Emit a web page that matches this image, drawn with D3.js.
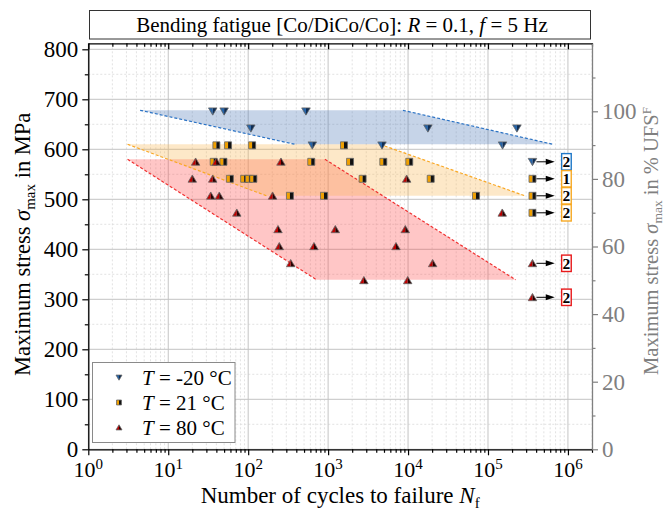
<!DOCTYPE html>
<html><head><meta charset="utf-8">
<script src="https://cdn.jsdelivr.net/npm/d3@7"></script>
<style>
body{margin:0;background:#fff}
svg{display:block}
svg text{font-family:"Liberation Serif",Tinos,"Times New Roman",Times,"DejaVu Serif",serif !important}
</style>
</head><body>
<svg id="c" width="666" height="526"></svg>
<script>
// ---------------- data ----------------
const UFS = 676; // MPa, 100 % UFS^F
const seriesNames = ["-20 °C", "21 °C", "80 °C"];
// [cycles to failure, max stress MPa]
const cold = [[36,676],[50,676],[528,676],[108,642],[17700,642],[230000,642],[634,608],[4720,608],[152000,608]];
const room = [[40,608],[56,608],[112,608],[1580,608],[37,575],[49,575],[615,575],[1880,575],[4900,575],[10350,575],
              [59,541],[89,541],[102,541],[116,541],[2700,541],[19200,541],[333,507],[888,507],[70700,507]];
const hot  = [[22,575],[40,575],[257,575],[20,541],[36,541],[9600,541],[34,507],[43.5,507],[202,507],
              [72,473],[150700,473],[236,440],[1230,440],[9230,440],[245,406],[665,406],[7060,406],
              [340,372],[20300,372],[2800,338],[9890,338]];
// run-outs: series index, cycles, stress, number of specimens
const runSeries = [0,1,1,1,2,2];
const runN      = [3.6e5,3.6e5,3.6e5,3.6e5,3.6e5,3.6e5];
const runStress = [575,541,507,473,372,304];
const runCount  = [2,1,2,2,2,2];
// scatter bands (corner points: [N, MPa])
const bandCold = [[4.45,678],[8630,678],[6.5e5,610],[385,610]];
const bandRoom = [[3.1,610],[4450,610],[2.9e5,507],[170,507]];
const bandHot  = [[3.1,580],[914,580],[2.22e5,339],[719,339]];
const xTicks = [1,10,100,1e3,1e4,1e5,1e6];
const yTicks = [0,100,200,300,400,500,600,700,800];
const yRTicks = [0,20,40,60,80,100];

// ---------------- setup ----------------
const FONT = '"Liberation Serif",Tinos,"Times New Roman",Times,"DejaVu Serif",serif';
const svg = d3.select("#c");
const L=88.3, R=592, T=43.3, B=449.3;
const x = d3.scaleLog().domain([1,2e6]).range([L,R]);
const y = d3.scaleLinear().domain([0,812]).range([B,T]);
const yR = d3.scaleLinear().domain([0,812/UFS*100]).range([B,T]);
const minorX = [];
for (let e=0;e<=6;e++) for (let k=2;k<=9;k++){const v=k*10**e; if(v<=2e6) minorX.push(v);}
const minorY = d3.range(50,812,100);
const minorYR = [10,30,50,70,90,110];

const colors = {
  fill:["rgb(65,112,178)","rgb(248,178,72)","rgb(255,65,65)"],
  edge:["#2a72c4","#f9a825","#f03030"],
  left:["#2464aa","#f0a000","#c00000"],
  right:["#0d2d55","#111111","#2a0000"],
  box:["#1f78c8","#f7a823","#e8191b"]
};

// ---------------- grid ----------------
const g = svg.append("g");
g.selectAll(".vmin").data(minorX).join("line")
  .attr("x1",d=>x(d)).attr("x2",d=>x(d)).attr("y1",T).attr("y2",B)
  .attr("stroke","#dadada").attr("stroke-width",0.8).attr("stroke-dasharray","2,2");
g.selectAll(".hmin").data(minorY).join("line")
  .attr("x1",L).attr("x2",R).attr("y1",d=>y(d)).attr("y2",d=>y(d))
  .attr("stroke","#dadada").attr("stroke-width",0.8).attr("stroke-dasharray","2,2");
g.selectAll(".vmaj").data(xTicks).join("line")
  .attr("x1",d=>x(d)).attr("x2",d=>x(d)).attr("y1",T).attr("y2",B)
  .attr("stroke","#c4c4c4").attr("stroke-width",1);
g.selectAll(".hmaj").data(yTicks).join("line")
  .attr("x1",L).attr("x2",R).attr("y1",d=>y(d)).attr("y2",d=>y(d))
  .attr("stroke","#c4c4c4").attr("stroke-width",1);

// ---------------- bands ----------------
const bands = [bandHot, bandRoom, bandCold];
const bandIdx = [2,1,0];
const line = d3.line().x(d=>x(d[0])).y(d=>y(d[1]));
bands.forEach((b,i)=>{
  const s = bandIdx[i];
  svg.append("path").attr("d", line(b)+"Z").attr("fill",colors.fill[s]).attr("fill-opacity",0.3);
});
bands.forEach((b,i)=>{
  const s = bandIdx[i];
  [[b[1],b[2]],[b[0],b[3]]].forEach(seg=>{
    svg.append("path").attr("d",line(seg)).attr("fill","none")
      .attr("stroke",colors.edge[s]).attr("stroke-width",1.2).attr("stroke-dasharray","3,2");
  });
});

// ---------------- axes ----------------
function styleAxis(sel,color){
  sel.attr("font-family",FONT);
  sel.selectAll("path.domain").attr("stroke",color).attr("stroke-width",1.3);
  sel.selectAll(".tick line").attr("stroke",color).attr("stroke-width",1.2);
  sel.selectAll("text").attr("fill",color);
}
// bottom
const ax = svg.append("g").attr("transform",`translate(0,${B})`)
  .call(d3.axisBottom(x).tickValues(xTicks).tickSize(6).tickSizeOuter(0).tickFormat(()=>""));
styleAxis(ax,"#000");
const axm = svg.append("g").attr("transform",`translate(0,${B})`)
  .call(d3.axisBottom(x).tickValues(minorX).tickSize(3.5).tickSizeOuter(0).tickFormat(()=>""));
axm.select(".domain").remove(); styleAxis(axm,"#000");
// top (inward)
const at = svg.append("g").attr("transform",`translate(0,${T})`)
  .call(d3.axisBottom(x).tickValues(xTicks).tickSize(6).tickSizeOuter(0).tickFormat(()=>""));
styleAxis(at,"#000");
const atm = svg.append("g").attr("transform",`translate(0,${T})`)
  .call(d3.axisBottom(x).tickValues(minorX).tickSize(3.5).tickSizeOuter(0).tickFormat(()=>""));
atm.select(".domain").remove(); styleAxis(atm,"#000");
// left
const al = svg.append("g").attr("transform",`translate(${L},0)`)
  .call(d3.axisLeft(y).tickValues(yTicks).tickSize(6).tickSizeOuter(0).tickPadding(4).tickFormat(d3.format("d")));
styleAxis(al,"#000");
al.attr("font-size",23);
const alm = svg.append("g").attr("transform",`translate(${L},0)`)
  .call(d3.axisLeft(y).tickValues(minorY).tickSize(3.5).tickSizeOuter(0).tickFormat(()=>""));
alm.select(".domain").remove(); styleAxis(alm,"#000");
// right
const ar = svg.append("g").attr("transform",`translate(${R},0)`)
  .call(d3.axisRight(yR).tickValues(yRTicks).tickSize(6).tickSizeOuter(0).tickPadding(4).tickFormat(d3.format("d")));
styleAxis(ar,"#808080");
ar.attr("font-size",23);
const arm = svg.append("g").attr("transform",`translate(${R},0)`)
  .call(d3.axisRight(yR).tickValues(minorYR).tickSize(3.5).tickSizeOuter(0).tickFormat(()=>""));
arm.select(".domain").remove(); styleAxis(arm,"#808080");

// x tick labels with superscripts
xTicks.forEach((v,i)=>{
  const t = svg.append("text").attr("x",x(v)).attr("y",477).attr("text-anchor","middle")
    .attr("font-size",22).attr("font-family",FONT);
  t.append("tspan").text("10");
  t.append("tspan").attr("font-size",15).attr("dy",-8.5).text(String(i));
});

// axis titles
const xt = svg.append("text").attr("x",(L+R)/2).attr("y",503).attr("text-anchor","middle").attr("font-size",23).attr("font-family",FONT);
xt.append("tspan").text("Number of cycles to failure ");
xt.append("tspan").attr("font-style","italic").text("N");
xt.append("tspan").attr("font-size",15).attr("dy",5).text("f");

const yl = svg.append("text").attr("transform",`translate(30,${(T+B)/2-2}) rotate(-90)`)
  .attr("text-anchor","middle").attr("font-size",22.5).attr("font-family",FONT);
yl.append("tspan").text("Maximum stress ");
yl.append("tspan").attr("font-style","italic").text("σ");
yl.append("tspan").attr("font-size",15).attr("dy",5).text("max");
yl.append("tspan").attr("dy",-5).text(" in MPa");

const yr = svg.append("text").attr("transform",`translate(658,241) rotate(-90)`)
  .attr("text-anchor","middle").attr("font-size",20.5).attr("fill","#808080").attr("font-family",FONT);
yr.append("tspan").text("Maximum stress ");
yr.append("tspan").attr("font-style","italic").text("σ");
yr.append("tspan").attr("font-size",13.5).attr("dy",3.5).text("max");
yr.append("tspan").attr("dy",-3.5).text(" in % UFS");
yr.append("tspan").attr("font-size",13).attr("dy",-7).text("F");

// ---------------- markers ----------------
function marker(sel, s, size){
  const h = size/2;
  let leftP, rightP, outline;
  if (s===0){
    leftP = `M${-h},${-h*0.8}L0,${-h*0.8}L0,${h*0.9}Z`;
    rightP = `M0,${-h*0.8}L${h},${-h*0.8}L0,${h*0.9}Z`;
    outline = `M${-h},${-h*0.8}L${h},${-h*0.8}L0,${h*0.9}Z`;
  } else if (s===1){
    const q = h*0.82;
    leftP = `M${-q},${-q}L0,${-q}L0,${q}L${-q},${q}Z`;
    rightP = `M0,${-q}L${q},${-q}L${q},${q}L0,${q}Z`;
    outline = `M${-q},${-q}L${q},${-q}L${q},${q}L${-q},${q}Z`;
  } else {
    leftP = `M${-h},${h*0.8}L0,${h*0.8}L0,${-h*0.9}Z`;
    rightP = `M0,${h*0.8}L${h},${h*0.8}L0,${-h*0.9}Z`;
    outline = `M${-h},${h*0.8}L${h},${h*0.8}L0,${-h*0.9}Z`;
  }
  sel.append("path").attr("d",leftP).attr("fill",colors.left[s]);
  sel.append("path").attr("d",rightP).attr("fill",colors.right[s]);
  sel.append("path").attr("d",outline).attr("fill","none").attr("stroke","#666").attr("stroke-width",0.8);
}
[cold, room, hot].forEach((data,s)=>{
  svg.append("g").selectAll("g").data(data).join("g")
    .attr("transform",d=>`translate(${x(d[0])},${y(d[1])})`)
    .each(function(){ marker(d3.select(this), s, 8.5); });
});

// ---------------- run-outs ----------------
runN.forEach((n,i)=>{
  const s = runSeries[i], cx = x(n), cy = y(runStress[i]);
  const gg = svg.append("g");
  marker(gg.append("g").attr("transform",`translate(${cx},${cy})`), s, 8.5);
  const xe = x(n*1.9);
  gg.append("line").attr("x1",cx+4).attr("x2",xe-6).attr("y1",cy).attr("y2",cy)
    .attr("stroke","#000").attr("stroke-width",1);
  gg.append("path").attr("d",`M${xe},${cy}L${xe-9},${cy-3}L${xe-9},${cy+3}Z`).attr("fill","#000");
  const bx = x(1e6)-1.5;
  gg.append("rect").attr("x",bx-4.8).attr("y",cy-8.2).attr("width",9.6).attr("height",16.4)
    .attr("fill","#fff").attr("stroke",colors.box[s]).attr("stroke-width",1.4);
  gg.append("text").attr("x",bx).attr("y",cy+5.3).attr("text-anchor","middle").attr("font-family",FONT)
    .attr("font-size",15.5).attr("font-weight","bold").text(runCount[i]);
});

// ---------------- legend ----------------
const lg = svg.append("g");
lg.append("rect").attr("x",92.5).attr("y",362.5).attr("width",142.5).attr("height",80)
  .attr("fill","#fff").attr("stroke","#8a8a8a").attr("stroke-width",1);
seriesNames.forEach((nm,i)=>{
  const cy = 377.5 + i*25;
  marker(lg.append("g").attr("transform",`translate(119,${cy})`), i, 6);
  const t = lg.append("text").attr("x",142).attr("y",cy+7).attr("font-size",21).attr("font-family",FONT);
  t.append("tspan").attr("font-style","italic").text("T");
  t.append("tspan").text(" = " + nm);
});

// ---------------- title ----------------
svg.append("rect").attr("x",89.5).attr("y",10.5).attr("width",501).attr("height",28.5)
  .attr("fill","#fff").attr("stroke","#333").attr("stroke-width",1);
const tt = svg.append("text").attr("x",342).attr("y",31.5).attr("text-anchor","middle").attr("font-size",21).attr("font-family",FONT);
tt.append("tspan").text("Bending fatigue [Co/DiCo/Co]: ");
tt.append("tspan").attr("font-style","italic").text("R");
tt.append("tspan").text(" = 0.1, ");
tt.append("tspan").attr("font-style","italic").text("f");
tt.append("tspan").text(" = 5 Hz");
</script>
</body></html>
